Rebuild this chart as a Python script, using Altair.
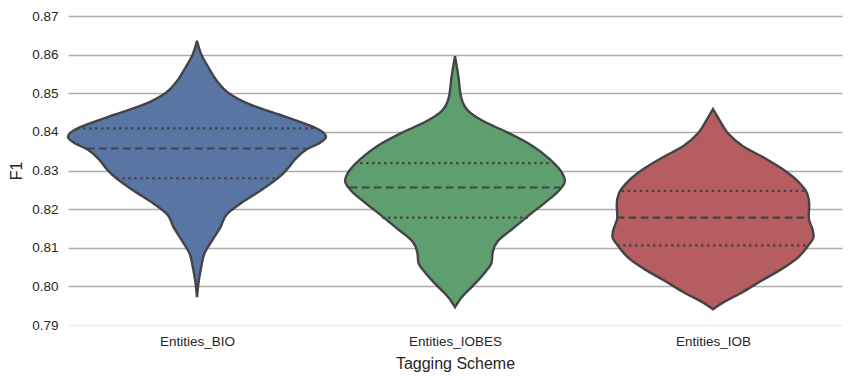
import json
import altair as alt
import pandas as pd

categories = ["Entities_BIO", "Entities_IOBES", "Entities_IOB"]
fill_colors = ["#5875A3", "#5F9E6E", "#B55D60"]

# violin outlines: F1 levels and half-width (in category units)
bio_f1 = [0.8636, 0.8600, 0.8566, 0.8531, 0.8500, 0.8471, 0.8445, 0.8424, 0.8406, 0.8387,
          0.8372, 0.8355, 0.8329, 0.8303, 0.8282, 0.8247, 0.8217, 0.8187, 0.8152, 0.8118,
          0.8084, 0.8049, 0.8015, 0.7972]
bio_hw = [0.0, 0.017, 0.045, 0.078, 0.123, 0.205, 0.317, 0.407, 0.472, 0.500,
          0.477, 0.426, 0.380, 0.349, 0.317, 0.244, 0.174, 0.116, 0.090, 0.058,
          0.028, 0.016, 0.007, 0.0]

iobes_f1 = [0.8596, 0.8544, 0.8484, 0.8454, 0.8428, 0.8398, 0.8363, 0.8329, 0.8294, 0.8273,
            0.8251, 0.8217, 0.8182, 0.8148, 0.8118, 0.8088, 0.8062, 0.8036, 0.8002, 0.7972,
            0.7946]
iobes_hw = [0.0, 0.013, 0.026, 0.052, 0.109, 0.205, 0.302, 0.368, 0.415, 0.426,
            0.407, 0.349, 0.283, 0.221, 0.167, 0.146, 0.142, 0.116, 0.070, 0.026,
            0.0]

iob_f1 = [0.8459, 0.8432, 0.8397, 0.8363, 0.8333, 0.8303, 0.8272, 0.8242, 0.8212, 0.8178,
          0.8147, 0.8130, 0.8104, 0.8074, 0.8044, 0.8014, 0.7983, 0.7958, 0.7941]
iob_hw = [0.0, 0.024, 0.057, 0.116, 0.198, 0.271, 0.329, 0.364, 0.373, 0.371,
          0.386, 0.390, 0.367, 0.328, 0.264, 0.186, 0.109, 0.038, 0.0]

# quartiles (Q1, median, Q3) and violin half-width at each
bio_q = [0.8280, 0.8357, 0.8409]
bio_q_hw = [0.313, 0.426, 0.465]
iobes_q = [0.8178, 0.8256, 0.8319]
iobes_q_hw = [0.283, 0.407, 0.368]
iob_q = [0.8106, 0.8178, 0.8247]
iob_q_hw = [0.372, 0.373, 0.354]

y_ticks = [0.79, 0.80, 0.81, 0.82, 0.83, 0.84, 0.85, 0.86, 0.87]

profiles = [(bio_f1, bio_hw), (iobes_f1, iobes_hw), (iob_f1, iob_hw)]
quarts = [(bio_q, bio_q_hw), (iobes_q, iobes_q_hw), (iob_q, iob_q_hw)]

rows = []
for i, (cat, (f1s, hws)) in enumerate(zip(categories, profiles)):
    for f, h in zip(f1s, hws):
        rows.append({"cat": cat, "F1": f, "lo": i - h, "hi": i + h})
vdf = pd.DataFrame(rows)

qrows = []
for i, (cat, (qs, qh)) in enumerate(zip(categories, quarts)):
    for k, (q, h) in enumerate(zip(qs, qh)):
        qrows.append({"cat": cat, "F1": q, "lo": i - h, "hi": i + h,
                      "kind": "median" if k == 1 else "quartile"})
qdf = pd.DataFrame(qrows)

FONT = "Liberation Sans"
label_expr = json.dumps(categories) + "[datum.value]"

x_scale = alt.Scale(domain=[-0.5, 2.5], nice=False, zero=False)
y_scale = alt.Scale(domain=[0.79, 0.87], nice=False, zero=False)

x_axis = alt.Axis(values=[0, 1, 2], labelExpr=label_expr, title="Tagging Scheme",
                  grid=False, ticks=False, domain=False, labelFontSize=13.5,
                  labelColor="#262626", labelPadding=9, titleFontSize=16,
                  titleFontWeight="normal", titleColor="#262626", titlePadding=8,
                  labelFont=FONT, titleFont=FONT, labelOverlap=False)
y_axis = alt.Axis(values=y_ticks, format=".2f", title="F1", grid=True, ticks=False,
                  domain=False, labelFontSize=13.5, labelColor="#262626",
                  labelPadding=10, titleFontSize=16, titleFontWeight="normal",
                  titleColor="#262626", titlePadding=7, labelFont=FONT, titleFont=FONT,
                  labelOverlap=False,
                  gridColor={"condition": {"test": "datum.value < 0.795", "value": "#ececec"},
                             "value": "#adadad"},
                  gridWidth=1.3)

violins = alt.Chart(vdf).mark_area(
    orient="horizontal", interpolate="monotone", stroke="#444444",
    strokeWidth=2.4, fillOpacity=1
).encode(
    y=alt.Y("F1:Q", scale=y_scale, axis=y_axis),
    x=alt.X("lo:Q", scale=x_scale, axis=x_axis, stack=None),
    x2="hi:Q",
    color=alt.Color("cat:N", scale=alt.Scale(domain=categories, range=fill_colors), legend=None),
)

dotted = alt.Chart(qdf).transform_filter("datum.kind == 'quartile'").mark_rule(
    color="#444444", strokeWidth=2.2, strokeDash=[2.5, 3.5]
).encode(
    y=alt.Y("F1:Q", scale=y_scale, axis=y_axis),
    x=alt.X("lo:Q", scale=x_scale, axis=x_axis),
    x2="hi:Q",
)

dashed = alt.Chart(qdf).transform_filter("datum.kind == 'median'").mark_rule(
    color="#444444", strokeWidth=2.2, strokeDash=[7.5, 4.5]
).encode(
    y=alt.Y("F1:Q", scale=y_scale, axis=y_axis),
    x=alt.X("lo:Q", scale=x_scale, axis=x_axis),
    x2="hi:Q",
)

chart = alt.layer(violins, dotted, dashed).properties(
    width=774, height=309,
    autosize=alt.AutoSizeParams(type="none"),
    padding={"left": 60, "top": 8, "right": 2, "bottom": 50},
    background="white",
).configure_view(stroke=None)

chart.save("out.html", embed_options={"renderer": "svg", "actions": False})
